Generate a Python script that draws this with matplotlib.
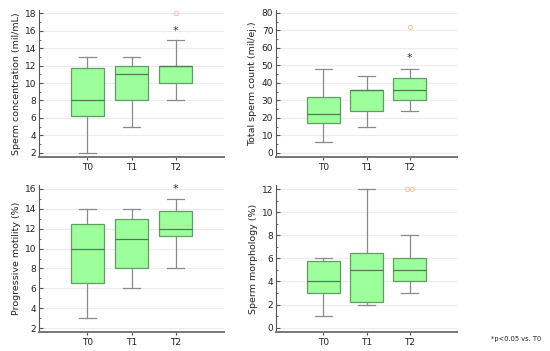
import matplotlib.pyplot as plt
from matplotlib.ticker import MultipleLocator

groups = ['T0', 'T1', 'T2']

# box stats per group: whisker low, Q1, median, Q3, whisker high
conc_stats = [[2, 6.25, 8, 11.75, 13], [5, 8, 11, 12, 13], [8, 10, 12, 12, 15]]
count_stats = [[6, 17, 22, 32, 48], [15, 24, 36, 36, 44], [24, 30, 36, 43, 48]]
motil_stats = [[3, 6.5, 10, 12.5, 14], [6, 8, 11, 13, 14], [8, 11.25, 12, 13.75, 15]]
morph_stats = [[1, 3, 4, 5.75, 6], [2, 2.25, 5, 6.5, 12], [3, 4, 5, 6, 8]]

conc_out = [[], [], [18]]
count_out = [[], [], [72]]
motil_out = [[], [], []]
morph_out = [[], [], [12, 12]]

conc_star = [None, None, 16]
count_star = [None, None, 54]
motil_star = [None, None, 16]
morph_star = [None, None, None]

ylabels = ['Sperm concentration (mil/mL)', 'Total sperm count (mil/ej.)',
           'Progressive motility (%)', 'Sperm morphology (%)']

plt.rcParams['font.family'] = ['Verdana', 'DejaVu Sans']

fig = plt.figure(figsize=(5.5, 3.51), dpi=100)
W, H = 550, 351


def panel(rect, stats, outs, stars, ylim, major, label):
    l, t, r, b = rect
    ax = fig.add_axes([l / W, 1 - b / H, (r - l) / W, (b - t) / H])
    bxp = []
    for i, s in enumerate(stats):
        bxp.append(dict(whislo=s[0], q1=s[1], med=s[2], q3=s[3], whishi=s[4],
                        fliers=outs[i], label=groups[i]))
    ax.bxp(bxp, positions=[0, 1, 2], widths=0.75, patch_artist=True,
           boxprops=dict(facecolor='#9cff9c', edgecolor='#5f9f62', linewidth=0.9),
           medianprops=dict(color='#4f7a52', linewidth=0.9),
           whiskerprops=dict(color='#8a8a8a', linewidth=0.9),
           capprops=dict(color='#8a8a8a', linewidth=0.9),
           capwidths=0.4,
           flierprops=dict(marker='o', markersize=3, markerfacecolor='none',
                           markeredgecolor='#f0c8a8', markeredgewidth=0.8))
    # spread duplicated outliers side by side
    for line in ax.lines:
        xd = list(line.get_xdata())
        yd = list(line.get_ydata())
        if line.get_marker() == 'o' and len(yd) > 1:
            n = len(yd)
            line.set_xdata([xd[0] + (k - (n - 1) / 2) * 0.12 for k in range(n)])
    for i, s in enumerate(stars):
        if s is not None:
            ax.text(i, s, '*', ha='center', va='center', fontsize=8, color='#333333')
    ax.set_xlim(-1.1, 3.1)
    ax.set_ylim(*ylim)
    ax.yaxis.set_major_locator(MultipleLocator(major))
    ax.yaxis.set_minor_locator(MultipleLocator(major / 2))
    ax.grid(axis='y', color='#ececec', linewidth=0.8)
    ax.set_axisbelow(True)
    for sp in ['top', 'right']:
        ax.spines[sp].set_visible(False)
    ax.spines['left'].set_color('#555555')
    ax.spines['left'].set_linewidth(0.8)
    ax.spines['bottom'].set_color('#777777')
    ax.spines['bottom'].set_linewidth(1.4)
    ax.tick_params(axis='y', which='both', direction='in', colors='#555555',
                   labelcolor='#222222', labelsize=6.5, pad=2)
    ax.tick_params(axis='y', which='major', length=3)
    ax.tick_params(axis='y', which='minor', length=1.5)
    ax.tick_params(axis='x', length=2, colors='#555555', labelcolor='#222222',
                   labelsize=6.5, pad=2)
    ax.set_ylabel(label, fontsize=6.8, color='#222222', labelpad=3)
    return ax


panel((39, 10, 224, 157), conc_stats, conc_out, conc_star, (1.5, 18.4), 2, ylabels[0])
panel((276, 10, 457, 157), count_stats, count_out, count_star, (-2.3, 81.7), 10, ylabels[1])
panel((39, 185, 224, 332), motil_stats, motil_out, motil_star, (1.6, 16.4), 2, ylabels[2])
panel((276, 185, 457, 332), morph_stats, morph_out, morph_star, (-0.37, 12.35), 2, ylabels[3])

fig.text(491 / W, 1 - 339 / H, '*p<0.05 vs. T0', fontsize=4.8, color='#222222',
         va='center', ha='left')

fig.savefig('out.png', dpi=100)
